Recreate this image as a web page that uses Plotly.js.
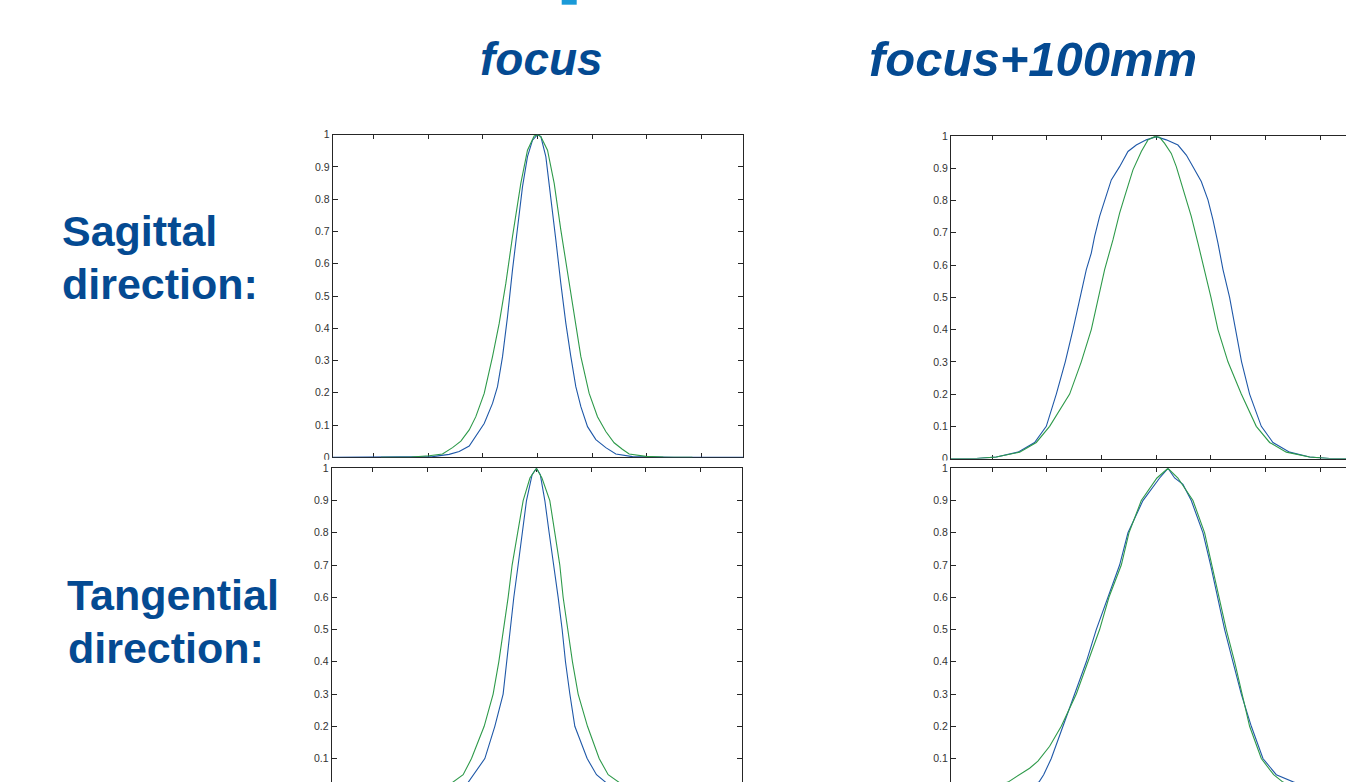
<!DOCTYPE html>
<html>
<head>
<meta charset="utf-8">
<script src="https://cdn.plot.ly/plotly-3.0.1.min.js"></script>
<style>html,body{margin:0;padding:0;background:#fff;overflow:hidden}#chart{width:1346px;height:782px}</style>
</head>
<body>
<div id="chart"></div>
<script>
// ---- data (normalised profiles) ----
const columnTitles = ["focus", "focus+100mm"];
const rowTitles = [["Sagittal", "direction:"], ["Tangential", "direction:"]];
const xTickVals = [-3, -2, -1, 0, 1, 2, 3];
const yTickVals = [0, 0.1, 0.2, 0.3, 0.4, 0.5, 0.6, 0.7, 0.8, 0.9, 1];

// Sagittal, focus
const sagFocusBlueX = [-3.75, -2.5, -1.918, -1.614, -1.431, -1.248, -0.974, -0.822, -0.731, -0.639, -0.548, -0.457, -0.365, -0.274, -0.183, -0.091, 0, 0.061, 0.152, 0.244, 0.335, 0.426, 0.518, 0.609, 0.700, 0.792, 0.914, 1.066, 1.248, 1.431, 1.736, 2.5, 3.76];
const sagFocusBlueY = [0, 0, 0.002, 0.009, 0.018, 0.035, 0.105, 0.167, 0.219, 0.312, 0.436, 0.581, 0.715, 0.839, 0.932, 0.983, 1, 0.994, 0.932, 0.808, 0.674, 0.539, 0.415, 0.312, 0.219, 0.157, 0.095, 0.055, 0.03, 0.01, 0.002, 0, 0];
const sagFocusGreenX = [-2.86, -2.3, -1.979, -1.736, -1.553, -1.4, -1.248, -1.127, -0.974, -0.822, -0.700, -0.579, -0.457, -0.305, -0.183, -0.061, 0, 0.061, 0.183, 0.305, 0.426, 0.548, 0.670, 0.792, 0.944, 1.096, 1.248, 1.4, 1.55, 1.675, 1.979, 2.3, 2.83];
const sagFocusGreenY = [0, 0.001, 0.005, 0.01, 0.03, 0.05, 0.085, 0.126, 0.198, 0.312, 0.415, 0.539, 0.684, 0.849, 0.952, 0.996, 1, 0.994, 0.952, 0.849, 0.705, 0.570, 0.436, 0.312, 0.198, 0.126, 0.080, 0.045, 0.025, 0.01, 0.003, 0.001, 0];

// Tangential, focus
const tanFocusBlueX = [-3.75, -2.5, -1.9, -1.6, -1.252, -0.946, -0.763, -0.611, -0.549, -0.488, -0.415, -0.336, -0.256, -0.183, -0.08, 0, 0.07, 0.153, 0.232, 0.317, 0.397, 0.470, 0.531, 0.611, 0.702, 0.928, 1.099, 1.270, 1.6, 1.9, 2.5, 3.76];
const tanFocusBlueY = [0, 0, 0.002, 0.01, 0.026, 0.1, 0.2, 0.3, 0.4, 0.5, 0.6, 0.7, 0.8, 0.9, 0.98, 1, 0.98, 0.9, 0.8, 0.7, 0.6, 0.5, 0.4, 0.3, 0.2, 0.1, 0.05, 0.026, 0.008, 0.002, 0, 0];
const tanFocusGreenX = [-2.86, -2.0, -1.75, -1.538, -1.343, -1.190, -0.958, -0.794, -0.690, -0.598, -0.519, -0.446, -0.348, -0.244, -0.12, 0, 0.1, 0.244, 0.336, 0.427, 0.488, 0.568, 0.659, 0.763, 0.934, 1.148, 1.313, 1.514, 1.75, 2.0, 2.83];
const tanFocusGreenY = [0, 0.004, 0.012, 0.026, 0.05, 0.1, 0.2, 0.3, 0.4, 0.5, 0.6, 0.7, 0.8, 0.9, 0.97, 1, 0.97, 0.9, 0.8, 0.7, 0.6, 0.5, 0.4, 0.3, 0.2, 0.1, 0.05, 0.026, 0.01, 0.003, 0];

// Sagittal, focus+100mm
const sag100BlueX = [-3.76, -3.293, -2.927, -2.530, -2.226, -2.012, -1.829, -1.665, -1.524, -1.433, -1.280, -1.189, -1.128, -1.037, -0.915, -0.823, -0.671, -0.518, -0.366, -0.183, 0, 0.183, 0.396, 0.549, 0.671, 0.823, 0.945, 1.037, 1.128, 1.220, 1.341, 1.450, 1.560, 1.707, 1.921, 2.134, 2.439, 2.805, 3.171, 3.5];
const sag100BlueY = [0, 0, 0.005, 0.02, 0.05, 0.1, 0.2, 0.3, 0.4, 0.467, 0.586, 0.637, 0.689, 0.751, 0.818, 0.864, 0.905, 0.952, 0.972, 0.988, 0.998, 0.988, 0.972, 0.941, 0.905, 0.859, 0.802, 0.740, 0.668, 0.586, 0.500, 0.4, 0.3, 0.2, 0.1, 0.05, 0.02, 0.005, 0, 0];
const sag100GreenX = [-3.76, -3.293, -2.927, -2.500, -2.195, -1.951, -1.585, -1.372, -1.189, -1.098, -0.945, -0.793, -0.671, -0.579, -0.427, -0.274, -0.152, -0.03, 0.061, 0.152, 0.274, 0.366, 0.488, 0.640, 0.762, 0.915, 1.000, 1.128, 1.311, 1.555, 1.829, 2.073, 2.378, 2.805, 3.171, 3.5];
const sag100GreenY = [0, 0, 0.005, 0.02, 0.05, 0.1, 0.2, 0.3, 0.4, 0.467, 0.586, 0.678, 0.761, 0.812, 0.895, 0.952, 0.988, 0.998, 0.996, 0.977, 0.946, 0.905, 0.833, 0.751, 0.668, 0.565, 0.5, 0.4, 0.3, 0.2, 0.1, 0.05, 0.02, 0.005, 0, 0];

// Tangential, focus+100mm
const tan100BlueX = [-3.76, -3.0, -2.5, -2.146, -2.060, -1.921, -1.707, -1.494, -1.280, -1.098, -0.884, -0.671, -0.518, -0.244, 0.061, 0.213, 0.335, 0.488, 0.640, 0.854, 0.994, 1.128, 1.250, 1.402, 1.555, 1.738, 1.951, 2.195, 2.512, 2.9, 3.5];
const tan100BlueY = [0, 0, 0.008, 0.027, 0.05, 0.1, 0.2, 0.3, 0.4, 0.5, 0.6, 0.7, 0.8, 0.9, 0.97, 1, 0.97, 0.95, 0.9, 0.8, 0.7, 0.6, 0.5, 0.4, 0.3, 0.2, 0.1, 0.05, 0.027, 0.008, 0];
const tan100GreenX = [-3.76, -3.2, -2.713, -2.470, -2.317, -2.165, -1.951, -1.738, -1.463, -1.250, -1.037, -0.866, -0.640, -0.500, -0.274, 0.012, 0.213, 0.396, 0.671, 0.884, 1.018, 1.159, 1.280, 1.433, 1.573, 1.707, 1.921, 2.146, 2.317, 2.7, 3.5];
const tan100GreenY = [0, 0.005, 0.027, 0.053, 0.07, 0.092, 0.138, 0.2, 0.3, 0.4, 0.5, 0.6, 0.7, 0.8, 0.9, 0.97, 1, 0.97, 0.9, 0.8, 0.7, 0.6, 0.5, 0.4, 0.3, 0.2, 0.1, 0.05, 0.027, 0.005, 0];

// ---- styling ----
const W = 1346, H = 782;
const BLUE = '#1f58a8', GREEN = '#2e9a4a', TEXTBLUE = '#044a92', AX = '#262626';
const px = v => v / W, py = v => (H - v) / H;

function line(x, y, color, xa, ya) {
  return {x: x, y: y, type: 'scatter', mode: 'lines', xaxis: xa, yaxis: ya,
          line: {color: color, width: 1.1}, hoverinfo: 'skip'};
}
const data = [
  line(sagFocusBlueX, sagFocusBlueY, BLUE, 'x', 'y'),
  line(sagFocusGreenX, sagFocusGreenY, GREEN, 'x', 'y'),
  line(sag100BlueX, sag100BlueY, BLUE, 'x2', 'y2'),
  line(sag100GreenX, sag100GreenY, GREEN, 'x2', 'y2'),
  line(tanFocusBlueX, tanFocusBlueY, BLUE, 'x3', 'y3'),
  line(tanFocusGreenX, tanFocusGreenY, GREEN, 'x3', 'y3'),
  line(tan100BlueX, tan100BlueY, BLUE, 'x4', 'y4'),
  line(tan100GreenX, tan100GreenY, GREEN, 'x4', 'y4')
];

function xAxis(domain, range, anchor, mirror, side) {
  return {domain: domain, range: range, anchor: anchor, side: side || 'bottom',
    showline: true, linecolor: AX, linewidth: 1, mirror: mirror,
    ticks: 'inside', ticklen: 4, tickcolor: AX, tickwidth: 1,
    tickvals: xTickVals, showticklabels: false,
    showgrid: false, zeroline: false, fixedrange: true, layer: 'below traces'};
}
function yAxis(domain, range, anchor, mirror) {
  return {domain: domain, range: range, anchor: anchor,
    showline: true, linecolor: AX, linewidth: 1, mirror: mirror,
    ticks: 'inside', ticklen: 5, tickcolor: AX, tickwidth: 1,
    tickvals: yTickVals, ticktext: yTickVals.map(String),
    tickfont: {family: 'Liberation Sans, Arial, sans-serif', size: 10.5, color: '#333333'},
    showgrid: false, zeroline: false, fixedrange: true, layer: 'below traces'};
}

const topY = [py(457.3), py(134.7)];
const topYR = [py(458.6), py(136)];
const botY = [0, py(468.3)];
const leftTopX = [px(332.7), px(743.3)];
const leftBotX = [px(331.7), px(741.7)];
const rightX = [px(951), 1];
const rangeLT = [-3.742, 3.76];
const rangeLB = [-3.75, 3.758];
const rangeR = [-3.755, 3.47];
const botYRange = [0.0273, 1];

function ann(text, xpx, baseline, size, anchor, italic) {
  return {text: italic ? '<b><i>' + text + '</i></b>' : '<b>' + text + '</b>',
    x: px(xpx), y: py(baseline + size * 0.212 + 1), xref: 'paper', yref: 'paper',
    xanchor: anchor, yanchor: 'bottom', showarrow: false,
    font: {family: 'Liberation Sans, Arial, sans-serif', size: size, color: TEXTBLUE}};
}

const layout = {
  width: W, height: H, margin: {l: 0, r: 0, t: 0, b: 0},
  paper_bgcolor: '#ffffff', plot_bgcolor: '#ffffff', showlegend: false,
  xaxis: xAxis(leftTopX, rangeLT, 'y', 'ticks'),
  yaxis: yAxis(topY, [0, 1], 'x', 'ticks'),
  xaxis2: xAxis(rightX, rangeR, 'y2', 'ticks'),
  yaxis2: yAxis(topYR, [0, 1], 'x2', false),
  xaxis3: xAxis(leftBotX, rangeLB, 'y3', false, 'top'),
  yaxis3: yAxis(botY, botYRange, 'x3', 'ticks'),
  xaxis4: xAxis(rightX, rangeR, 'y4', false, 'top'),
  yaxis4: yAxis(botY, botYRange, 'x4', false),
  annotations: [
    ann(columnTitles[0], 541.7, 76.7, 46, 'center', true),
    ann(columnTitles[1], 1033.3, 76.5, 49, 'center', true),
    ann(rowTitles[0][0], 59.7, 246.7, 43, 'left', false),
    ann(rowTitles[0][1], 59.7, 300, 43, 'left', false),
    ann(rowTitles[1][0], 65, 610.7, 43, 'left', false),
    ann(rowTitles[1][1], 66.3, 664, 43, 'left', false)
  ],
  shapes: [
    {type: 'rect', xref: 'paper', yref: 'paper', x0: px(561.7), x1: px(576.7), y0: py(4.7), y1: 1,
     fillcolor: '#1a9ad8', line: {width: 0}, layer: 'above'},
    {type: 'rect', xref: 'paper', yref: 'paper', x0: px(300), x1: px(331), y0: py(462.5), y1: py(459.8),
     fillcolor: '#ffffff', line: {width: 0}, layer: 'above'},
    {type: 'rect', xref: 'paper', yref: 'paper', x0: px(920), x1: px(950), y0: py(463.5), y1: py(460.5),
     fillcolor: '#ffffff', line: {width: 0}, layer: 'above'}
  ]
};

Plotly.newPlot('chart', data, layout, {staticPlot: true, displayModeBar: false});
</script>
</body>
</html>
